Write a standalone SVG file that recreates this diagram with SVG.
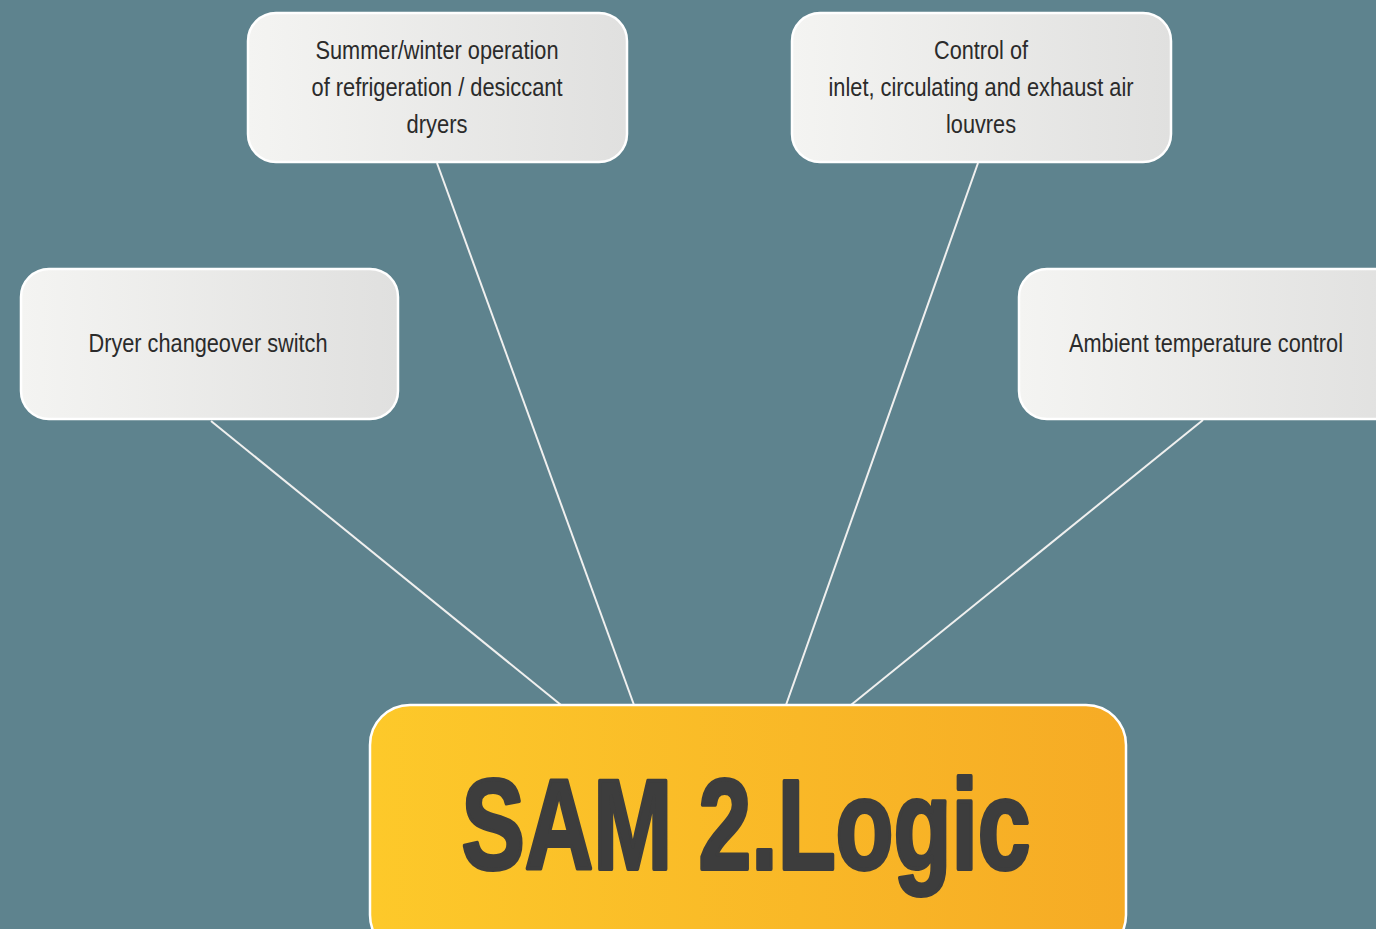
<svg xmlns="http://www.w3.org/2000/svg" width="1376" height="929" viewBox="0 0 1376 929">
<defs>
<linearGradient id="gGrey" x1="0" y1="0" x2="1" y2="0">
<stop offset="0" stop-color="#f4f4f2"/>
<stop offset="1" stop-color="#e0e0df"/>
</linearGradient>
<linearGradient id="gYellow" x1="0" y1="0" x2="1" y2="0">
<stop offset="0" stop-color="#fdc92a"/>
<stop offset="1" stop-color="#f6ab25"/>
</linearGradient>
</defs>
<style>
.box{fill:url(#gGrey);stroke:#ffffff;stroke-width:2.5}
.main{fill:url(#gYellow);stroke:#ffffff;stroke-width:2.5}
.lbl{font-family:"Liberation Sans",Arial,sans-serif;font-size:25px;fill:#2b2b2b;text-anchor:middle}
.big{font-family:"Liberation Sans",Arial,sans-serif;font-weight:bold;font-size:128px;fill:#3d3d3d;stroke:#3d3d3d;stroke-width:4;stroke-linejoin:round;text-anchor:middle}
.conn line{stroke:#f0f0ef;stroke-width:2}
</style>
<rect x="0" y="0" width="1376" height="929" fill="#5e838e"/>
<g id="connectors" class="conn">
<line x1="211" y1="421" x2="561" y2="705"/>
<line x1="437" y1="163" x2="634" y2="705"/>
<line x1="978" y1="163" x2="786" y2="705"/>
<line x1="1203" y1="420" x2="851" y2="705"/>
</g>
<g id="node-summer">
<rect class="box" x="248" y="13" width="379" height="149" rx="28"/>
<text class="lbl" x="437" y="59" textLength="243" lengthAdjust="spacingAndGlyphs">Summer/winter operation</text>
<text class="lbl" x="437" y="96" textLength="251" lengthAdjust="spacingAndGlyphs">of refrigeration / desiccant</text>
<text class="lbl" x="437" y="133" textLength="61" lengthAdjust="spacingAndGlyphs">dryers</text>
</g>
<g id="node-louvres">
<rect class="box" x="792" y="13" width="379" height="149" rx="28"/>
<text class="lbl" x="981" y="59" textLength="94" lengthAdjust="spacingAndGlyphs">Control of</text>
<text class="lbl" x="981" y="96" textLength="305" lengthAdjust="spacingAndGlyphs">inlet, circulating and exhaust air</text>
<text class="lbl" x="981" y="133" textLength="70" lengthAdjust="spacingAndGlyphs">louvres</text>
</g>
<g id="node-dryer">
<rect class="box" x="21" y="269" width="377" height="150" rx="28"/>
<text class="lbl" x="208" y="352" textLength="239" lengthAdjust="spacingAndGlyphs">Dryer changeover switch</text>
</g>
<g id="node-ambient">
<rect class="box" x="1019" y="269" width="390" height="150" rx="28"/>
<text class="lbl" x="1206" y="352" textLength="274" lengthAdjust="spacingAndGlyphs">Ambient temperature control</text>
</g>
<g id="node-main">
<rect class="main" x="370" y="705" width="756" height="250" rx="40"/>
<text class="big" x="746" y="869" textLength="569" lengthAdjust="spacingAndGlyphs">SAM 2.Logic</text>
</g>
</svg>
